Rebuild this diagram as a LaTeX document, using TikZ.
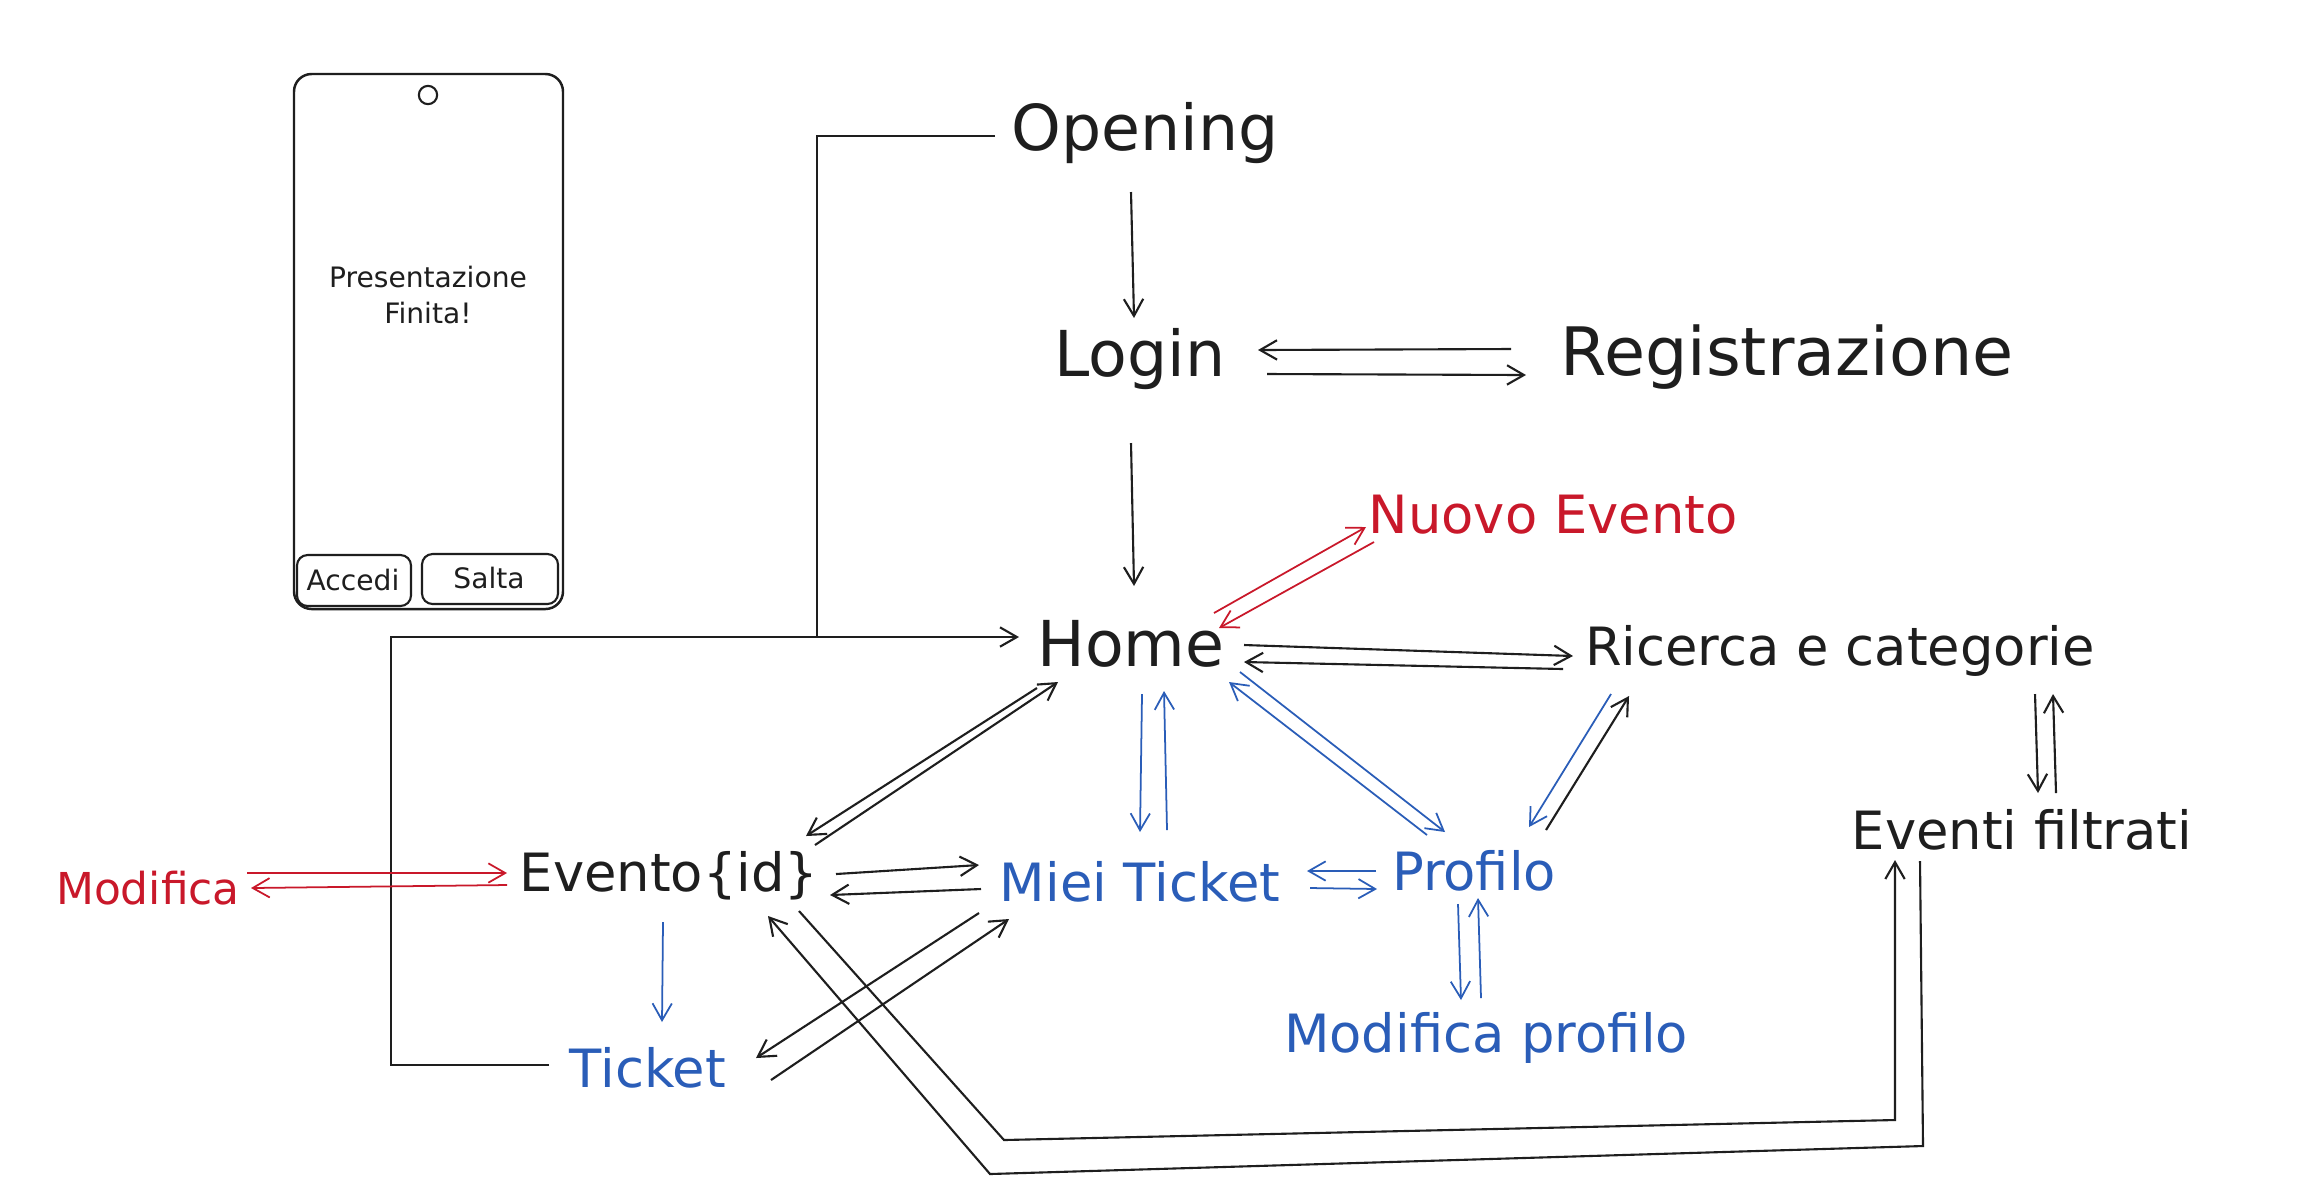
\documentclass[tikz,border=0pt]{standalone}
\usepackage{fontspec}
\setmainfont{DejaVu Sans}
\usetikzlibrary{arrows.meta,calc}

\definecolor{ink}{HTML}{1E1E1E}
\definecolor{inkred}{HTML}{C9182A}
\definecolor{inkblue}{HTML}{2A5DB8}

\begin{document}
\begin{tikzpicture}[x=0.01cm,y=-0.01cm,
	every node/.style={inner sep=0pt, text=ink},
	big screen/.style={font=\fontsize{18}{22}\selectfont},
	screen/.style={font=\fontsize{15}{18}\selectfont},
	admin screen/.style={screen, text=inkred},
	user screen/.style={screen, text=inkblue},
	phone text/.style={font=\fontsize{8}{10}\selectfont, align=center},
	nav/.style={draw=ink, line width=0.6pt, -{Straight Barb[length=4.8pt,width=5.5pt]}},
	admin nav/.style={nav, draw=inkred, line width=0.5pt},
	user nav/.style={nav, draw=inkblue, line width=0.5pt},
	plain line/.style={draw=ink, line width=0.6pt}]

	\fill[white] (0,0) rectangle (2316,1190);
	\useasboundingbox (0,0) rectangle (2316,1190);

	% phone mock-up
	\draw[ink, line width=0.7pt, rounded corners=5pt] (294,74) rectangle (563,609);
	\draw[ink, line width=0.6pt] (428,95) circle[radius=2.6pt];
	\node[phone text] (fine) at (428,295) {Presentazione\\Finita!};
	\draw[ink, line width=0.6pt, rounded corners=3pt] (297,555) rectangle (411,606);
	\draw[ink, line width=0.6pt, rounded corners=3pt] (422,554) rectangle (558,604);
	\node[phone text] (accedi) at (353,580) {Accedi};
	\node[phone text] (salta) at (489,578) {Salta};

	% screens
	\node[big screen] (opening) at (1145,133) {Opening};
	\node[big screen] (login) at (1140,359) {Login};
	\node[big screen, font=\fontsize{19}{23}\selectfont] (registrazione) at (1787,357) {Registrazione};
	\node[big screen] (home) at (1131,644) {Home};
	\node[admin screen] (nuovo) at (1553,515) {Nuovo Evento};
	\node[screen] (ricerca) at (1840,651) {Ricerca e categorie};
	\node[screen] (filtrati) at (2022,830) {Eventi filtrati};
	\node[screen] (evento) at (669,876) {Evento\{id\}};
	\node[admin screen, font=\fontsize{12.5}{15}\selectfont] (modifica) at (148,888) {Modifica};
	\node[user screen] (miei) at (1140,882) {Miei Ticket};
	\node[user screen] (profilo) at (1474,871) {Profilo};
	\node[user screen] (modprofilo) at (1486,1038) {Modifica profilo};
	\node[user screen] (ticket) at (648,1068) {Ticket};

	% opening / login
	\draw[nav] ($(opening)+(-14,59)$) -- ($(login)+(-6,-41)$);
	\draw[nav] ($(registrazione)+(-276,-8)$) -- ($(login)+(118,-9)$);
	\draw[nav] ($(login)+(127,15)$) -- ($(registrazione)+(-261,18)$);
	\draw[nav] ($(login)+(-9,84)$) -- ($(home)+(3,-58)$);

	% back to home
	\coordinate (junction) at (817,638);
	\draw[plain line] ($(opening)+(-150,3)$) -| (junction);
	\draw[nav] ($(ticket)+(-99,-3)$) -- ++(-158,0) |- ($(home)+(-112,-7)$);

	% home
	\draw[admin nav] ($(home)+(83,-31)$) -- ($(nuovo)+(-187,12)$);
	\draw[admin nav] ($(nuovo)+(-179,27)$) -- ($(home)+(88,-16)$);
	\draw[nav] ($(home)+(113,1)$) -- ($(ricerca)+(-267,5)$);
	\draw[nav] ($(ricerca)+(-277,18)$) -- ($(home)+(113,18)$);
	\draw[nav] ($(home)+(-94,44)$) -- ($(evento)+(137,-40)$);
	\draw[nav] ($(evento)+(146,-31)$) -- ($(home)+(-73,38)$);
	\draw[user nav] ($(home)+(11,50)$) -- ($(miei)+(0,-50)$);
	\draw[user nav] ($(miei)+(27,-52)$) -- ($(home)+(33,47)$);
	\draw[user nav] ($(home)+(109,28)$) -- ($(profilo)+(-29,-39)$);
	\draw[user nav] ($(profilo)+(-47,-36)$) -- ($(home)+(98,38)$);

	% ricerca
	\draw[nav] ($(ricerca)+(195,43)$) -- ($(filtrati)+(16,-37)$);
	\draw[nav] ($(filtrati)+(34,-37)$) -- ($(ricerca)+(213,43)$);
	\draw[user nav] ($(ricerca)+(-229,43)$) -- ($(profilo)+(55,-44)$);
	\draw[nav] ($(profilo)+(72,-41)$) -- ($(ricerca)+(-211,45)$);

	% evento
	\draw[admin nav] ($(evento)+(-162,9)$) -- ($(modifica)+(103,0)$);
	\draw[admin nav] ($(modifica)+(99,-15)$) -- ($(evento)+(-162,-3)$);
	\draw[nav] ($(evento)+(167,-2)$) -- ($(miei)+(-161,-17)$);
	\draw[nav] ($(miei)+(-159,7)$) -- ($(evento)+(161,19)$);
	\draw[user nav] ($(evento)+(-6,46)$) -- ($(ticket)+(14,-46)$);
	\draw[nav] ($(evento)+(130,35)$) -- ++(205,229) -- ++(891,-20) -- ($(filtrati)+(-127,30)$);
	\draw[nav] ($(filtrati)+(-102,31)$) -- ++(3,285) -- ++(-933,28) -- ($(evento)+(99,40)$);

	% tickets and profile
	\draw[nav] ($(miei)+(-161,31)$) -- ($(ticket)+(108,-10)$);
	\draw[nav] ($(ticket)+(123,12)$) -- ($(miei)+(-131,37)$);
	\draw[user nav] ($(profilo)+(-98,0)$) -- ($(miei)+(167,-11)$);
	\draw[user nav] ($(miei)+(170,6)$) -- ($(profilo)+(-97,18)$);
	\draw[user nav] ($(profilo)+(-16,33)$) -- ($(modprofilo)+(-25,-38)$);
	\draw[user nav] ($(modprofilo)+(-5,-40)$) -- ($(profilo)+(4,27)$);

\end{tikzpicture}
\end{document}
